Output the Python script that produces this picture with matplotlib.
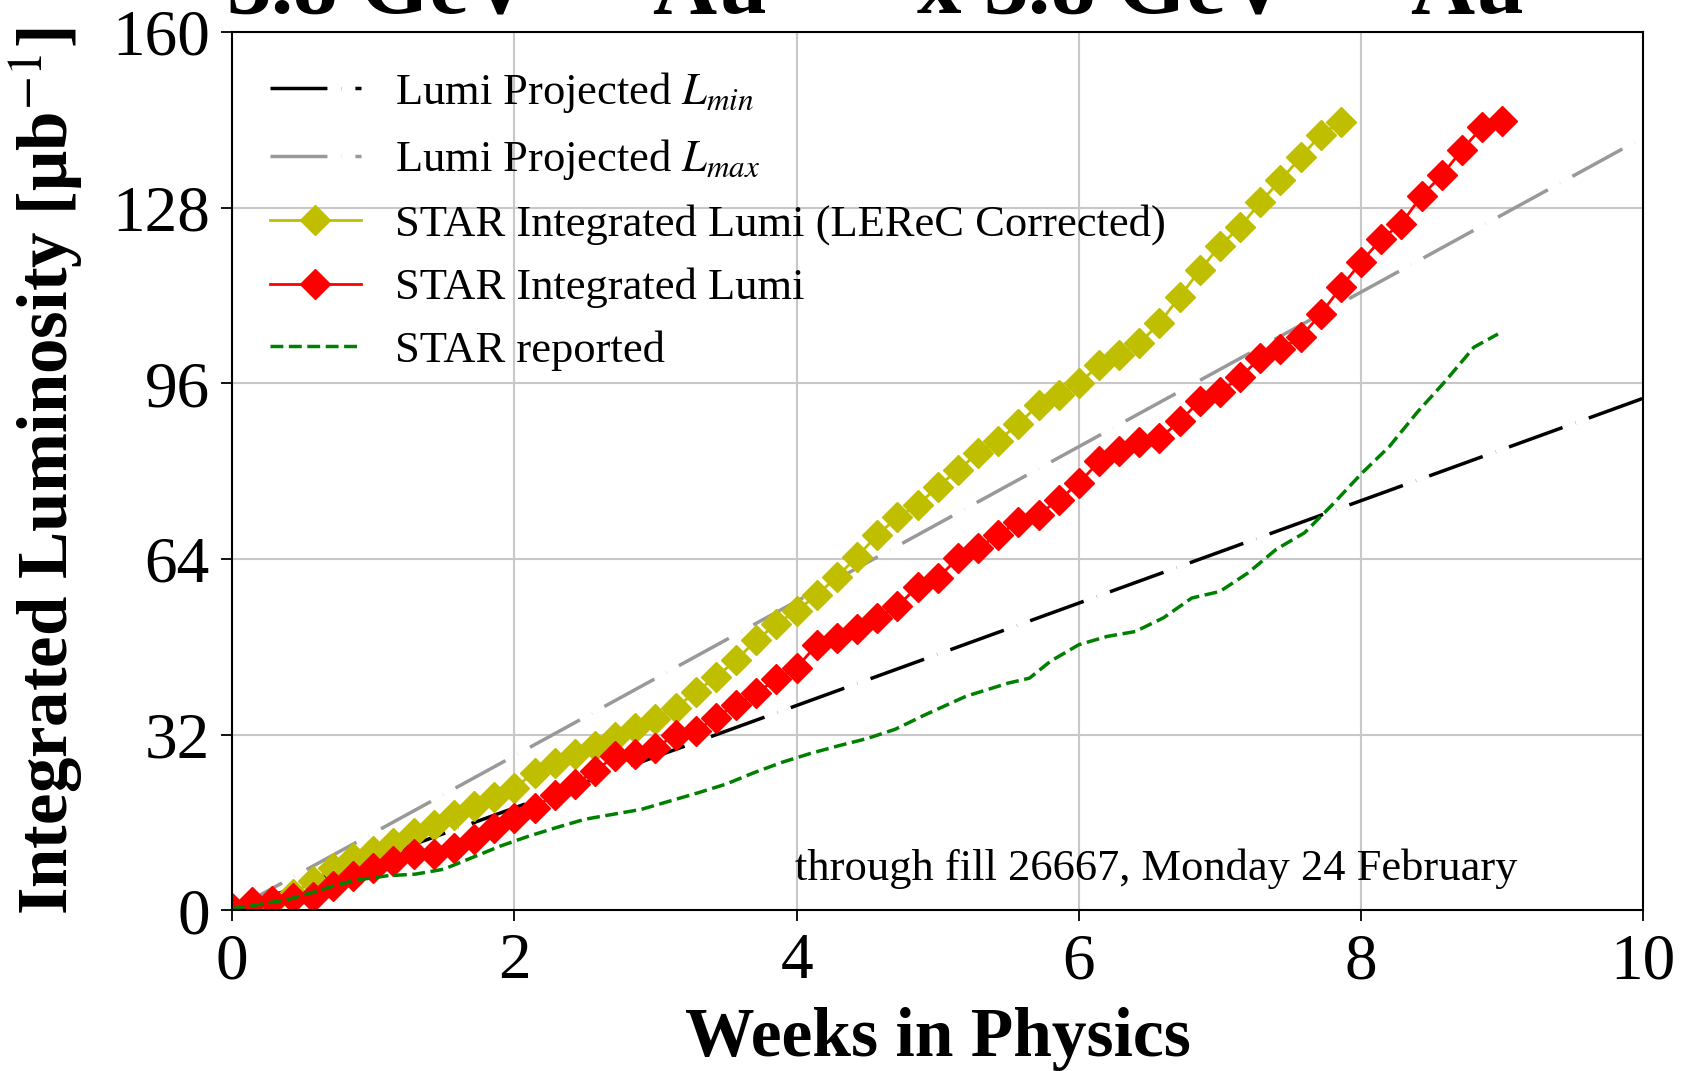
import numpy as np
import matplotlib
matplotlib.use('Agg')
from matplotlib import pyplot as plt

# weeks / values
proj_weeks = [0.0, 10.0]
lumi_min = [0.0, 93.3]
lumi_max = [0.0, 140.8]

# daily points, one per day
star_lerec = [0.3, 0.8, 1.5, 3.0, 5.4, 7.7, 9.5, 10.8, 12.3, 14.1,
              15.6, 17.4, 19.1, 20.7, 22.3, 25.1, 26.8, 28.5, 29.9, 31.6,
              33.3, 34.9, 36.9, 39.8, 42.5, 45.6, 49.2, 52.2, 54.6, 57.4,
              60.8, 64.4, 68.4, 71.6, 73.8, 77.2, 80.2, 83.3, 85.6, 88.6,
              92.1, 93.9, 96.0, 99.3, 101.2, 103.3, 107.0, 111.8, 116.6, 121.1,
              124.5, 129.0, 133.0, 137.2, 141.3, 143.6]
star_lumi = [0.5, 1.5, 1.7, 2.3, 2.5, 4.4, 6.3, 7.8, 9.0, 10.2,
             10.2, 11.4, 13.0, 15.0, 16.9, 18.7, 21.1, 23.0, 25.4, 28.1,
             28.4, 29.6, 32.0, 32.7, 35.1, 37.5, 39.6, 42.1, 44.2, 48.4,
             49.6, 51.2, 53.3, 55.4, 59.0, 60.5, 64.2, 66.0, 68.4, 70.8,
             72.1, 74.8, 77.8, 81.8, 83.6, 85.4, 86.0, 89.1, 92.8, 94.5,
             97.1, 100.7, 102.3, 104.4, 108.7, 113.5, 118.1, 122.3, 125.1, 130.2,
             133.9, 138.5, 142.7, 143.9]

rep_weeks = [0.0, 0.2, 0.4, 0.6, 0.75, 0.9, 1.1, 1.3, 1.5, 1.7,
             1.9, 2.1, 2.3, 2.5, 2.7, 2.9, 3.1, 3.3, 3.5, 3.7,
             3.9, 4.1, 4.3, 4.5, 4.7, 4.9, 5.2, 5.5, 5.65, 5.8,
             6.0, 6.2, 6.4, 6.6, 6.8, 7.0, 7.2, 7.4, 7.6, 7.8,
             8.0, 8.2, 8.4, 8.6, 8.8, 8.97]
star_reported = [0.3, 1.1, 2.0, 3.5, 4.7, 5.6, 6.3, 6.6, 7.5, 9.6,
                 11.7, 13.5, 15.1, 16.6, 17.5, 18.4, 19.9, 21.4, 23.0, 25.1,
                 27.0, 28.6, 30.0, 31.3, 33.0, 35.5, 39.0, 41.4, 42.3, 45.4,
                 48.4, 49.9, 50.8, 53.3, 56.9, 58.1, 61.5, 65.8, 68.8, 74.0,
                 79.5, 84.5, 90.8, 96.5, 102.6, 105.0]

y_ticks = [0, 32, 64, 96, 128, 160]
x_ticks = [0, 2, 4, 6, 8, 10]

TITLE = '3.8 GeV $^{197}$Au$^{79+}$ x 3.8 GeV $^{197}$Au$^{79+}$'
NOTE = 'through fill 26667, Monday 24 February'

plt.rcParams['font.family'] = ['Liberation Serif', 'DejaVu Serif']
plt.rcParams['mathtext.fontset'] = 'stix'

lerec_weeks = np.arange(len(star_lerec)) / 7.0
lumi_weeks = np.arange(len(star_lumi)) / 7.0

fig = plt.figure(figsize=(16.82, 10.71), dpi=100)
ax = fig.add_axes([0.138, 0.150, 0.839, 0.820])

dash_dot = [16.4, 4, 0.05, 4]
ax.plot(proj_weeks, lumi_min, color='k', lw=2.5, dashes=dash_dot,
        label='Lumi Projected $L_{min}$')
ax.plot(proj_weeks, lumi_max, color='#999999', lw=2.5, dashes=dash_dot,
        label='Lumi Projected $L_{max}$')
ax.plot(lerec_weeks, star_lerec, color='y', marker='D', ms=15, lw=2,
        label='STAR Integrated Lumi (LEReC Corrected)')
ax.plot(lumi_weeks, star_lumi, color='r', marker='D', ms=15, lw=2,
        label='STAR Integrated Lumi')
ax.plot(rep_weeks, star_reported, color='g', ls='--', lw=2.5,
        label='STAR reported')

ax.set_xlim(0, 10)
ax.set_ylim(0, 160)
ax.set_xticks(x_ticks)
ax.set_yticks(y_ticks)
ax.tick_params(labelsize=47, direction='out', length=8, width=1.3, pad=8)
ax.grid(True, color='#c8c8c8', lw=1.5)
ax.set_axisbelow(True)
for s in ax.spines.values():
    s.set_linewidth(1.5)

ax.set_xlabel('Weeks in Physics', fontsize=50, fontweight='bold')
ax.set_ylabel('Integrated Luminosity [μb$^{-1}$]', fontsize=51, fontweight='bold')
ax.xaxis.set_label_coords(0.5, -0.11)
ax.yaxis.set_label_coords(-0.104, 0.5)

ax.text(0.911, 0.035, NOTE, transform=ax.transAxes, ha='right', va='baseline',
        fontsize=32)

fig.text(0.554, 0.988, TITLE, ha='center', va='baseline', fontsize=64,
         fontweight='bold')

ax.legend(loc='upper left', frameon=False, fontsize=32, handlelength=2.05,
          handletextpad=0.77, labelspacing=0.5, borderaxespad=0.45)

fig.savefig('out.png', dpi=100)
